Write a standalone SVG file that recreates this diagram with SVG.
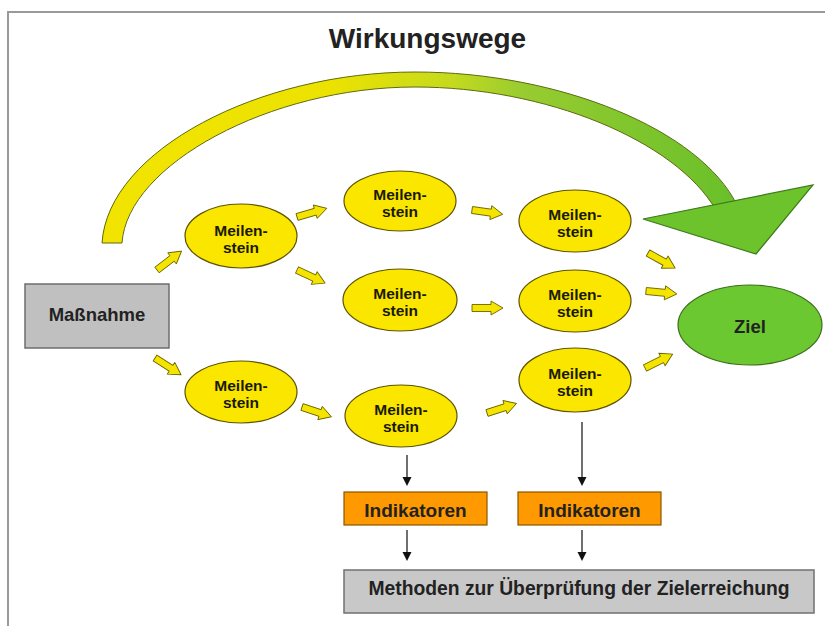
<svg xmlns="http://www.w3.org/2000/svg" xmlns:xlink="http://www.w3.org/1999/xlink" width="825" height="626" viewBox="0 0 825 626">
<style>
  .ms { fill: #fbe600; stroke: #5c5400; stroke-width: 1.2; }
  .mt { font-family: "Liberation Sans", Arial, sans-serif; font-weight: bold; font-size: 15.5px; fill: #1a1a00; text-anchor: middle; }
  .lbl { font-family: "Liberation Sans", Arial, sans-serif; font-weight: bold; fill: #222; text-anchor: middle; }
  .ba { fill: #f4e400; stroke: #6b6400; stroke-width: 0.9; stroke-linejoin: round; }
  .vl { stroke: #222; stroke-width: 1.3; fill: none; }
  .ah { fill: #111; }
</style>
<defs>
  <linearGradient id="arcGrad" gradientUnits="userSpaceOnUse" x1="100" y1="0" x2="740" y2="0">
    <stop offset="0" stop-color="#f2e400"/>
    <stop offset="0.36" stop-color="#ece200"/>
    <stop offset="0.55" stop-color="#c4da1e"/>
    <stop offset="0.66" stop-color="#98cc30"/>
    <stop offset="1" stop-color="#68bf2a"/>
  </linearGradient>
  <path id="blk" d="M0,-3.5 L19,-3.5 L19,-7 L31,0 L19,7 L19,3.5 L0,3.5 Z"/>
  <path id="dh" d="M-4.5,-9 L4.5,-9 L0,0 Z"/>
</defs>

<rect x="0" y="0" width="825" height="626" fill="#ffffff"/>
<path d="M8,626 L8,12 L825,12" fill="none" stroke="#9a9a9a" stroke-width="2"/>

<text x="427.5" y="48" class="lbl" font-size="28" fill="#111">Wirkungswege</text>

<g id="wirkungsweg-arrow">
  <path d="M102,243 C108,150 260,72 415,72 C560,72 700,130 737,205 L716,210 C675,140 545,87 415,87 C270,87 127,165 122,243 Z" fill="url(#arcGrad)" stroke="#5f6a10" stroke-width="1"/>
  <path d="M643,219 L813,185 L756,254 Z" fill="#6cc32c" stroke="#3f7a1a" stroke-width="1.2" stroke-linejoin="miter"/>
</g>

<g id="connectors">
  <use href="#blk" class="ba" transform="translate(157,270) rotate(-37.6)"/>
  <use href="#blk" class="ba" transform="translate(297,217) rotate(-16.2)"/>
  <use href="#blk" class="ba" transform="translate(297,270) rotate(25)"/>
  <use href="#blk" class="ba" transform="translate(155,358) rotate(32.7)"/>
  <use href="#blk" class="ba" transform="translate(302,407) rotate(18.4)"/>
  <use href="#blk" class="ba" transform="translate(472,210) rotate(8)"/>
  <use href="#blk" class="ba" transform="translate(472,308) rotate(0)"/>
  <use href="#blk" class="ba" transform="translate(487,413) rotate(-17.9)"/>
  <use href="#blk" class="ba" transform="translate(648,253) rotate(28.9)"/>
  <use href="#blk" class="ba" transform="translate(646,291) rotate(5.5)"/>
  <use href="#blk" class="ba" transform="translate(645,368) rotate(-26.6)"/>

  <line class="vl" x1="407" y1="455" x2="407" y2="478"/>
  <use href="#dh" class="ah" transform="translate(407,486)"/>
  <line class="vl" x1="582" y1="422" x2="582" y2="478"/>
  <use href="#dh" class="ah" transform="translate(582,486)"/>
  <line class="vl" x1="407" y1="530" x2="407" y2="553"/>
  <use href="#dh" class="ah" transform="translate(407,561)"/>
  <line class="vl" x1="582" y1="530" x2="582" y2="553"/>
  <use href="#dh" class="ah" transform="translate(582,561)"/>
</g>

<g id="massnahme">
  <rect x="25" y="284" width="144" height="64" fill="#c0c0c0" stroke="#6e6e6e" stroke-width="1.5"/>
  <text x="97" y="321" class="lbl" font-size="18.5">Maßnahme</text>
</g>

<g id="meilenstein-1">
  <ellipse cx="241" cy="236" rx="56" ry="32" class="ms"/>
  <text x="241" y="236" class="mt">Meilen-</text>
  <text x="241" y="253" class="mt">stein</text>
</g>
<g id="meilenstein-2">
  <ellipse cx="400" cy="201" rx="56" ry="30" class="ms"/>
  <text x="400" y="200" class="mt">Meilen-</text>
  <text x="400" y="217" class="mt">stein</text>
</g>
<g id="meilenstein-3">
  <ellipse cx="575" cy="221" rx="56" ry="31" class="ms"/>
  <text x="575" y="220" class="mt">Meilen-</text>
  <text x="575" y="237" class="mt">stein</text>
</g>
<g id="meilenstein-4">
  <ellipse cx="400" cy="300" rx="57" ry="31" class="ms"/>
  <text x="400" y="299" class="mt">Meilen-</text>
  <text x="400" y="316" class="mt">stein</text>
</g>
<g id="meilenstein-5">
  <ellipse cx="575" cy="301" rx="56" ry="31" class="ms"/>
  <text x="575" y="300" class="mt">Meilen-</text>
  <text x="575" y="317" class="mt">stein</text>
</g>
<g id="meilenstein-6">
  <ellipse cx="241" cy="392" rx="56" ry="31" class="ms"/>
  <text x="241" y="391" class="mt">Meilen-</text>
  <text x="241" y="408" class="mt">stein</text>
</g>
<g id="meilenstein-7">
  <ellipse cx="401" cy="416" rx="56" ry="31" class="ms"/>
  <text x="401" y="415" class="mt">Meilen-</text>
  <text x="401" y="432" class="mt">stein</text>
</g>
<g id="meilenstein-8">
  <ellipse cx="575" cy="380" rx="56" ry="32" class="ms"/>
  <text x="575" y="379" class="mt">Meilen-</text>
  <text x="575" y="396" class="mt">stein</text>
</g>

<g id="ziel">
  <ellipse cx="750" cy="325" rx="72" ry="40" fill="#6cc830" stroke="#3d6e1a" stroke-width="1.2"/>
  <text x="750" y="333" class="lbl" font-size="18.5" fill="#1e3a10">Ziel</text>
</g>

<g id="indikatoren-1">
  <rect x="344" y="492" width="143" height="33" fill="#ff9900" stroke="#8a5500" stroke-width="1.2"/>
  <text x="415.5" y="517" class="lbl" font-size="19" fill="#1a1000">Indikatoren</text>
</g>
<g id="indikatoren-2">
  <rect x="518" y="492" width="143" height="33" fill="#ff9900" stroke="#8a5500" stroke-width="1.2"/>
  <text x="589.5" y="517" class="lbl" font-size="19" fill="#1a1000">Indikatoren</text>
</g>

<g id="methoden">
  <rect x="344" y="570" width="470" height="43" fill="#c8c8c8" stroke="#707070" stroke-width="1.5"/>
  <text x="579" y="595" class="lbl" font-size="19.3">Methoden zur Überprüfung der Zielerreichung</text>
</g>
</svg>
